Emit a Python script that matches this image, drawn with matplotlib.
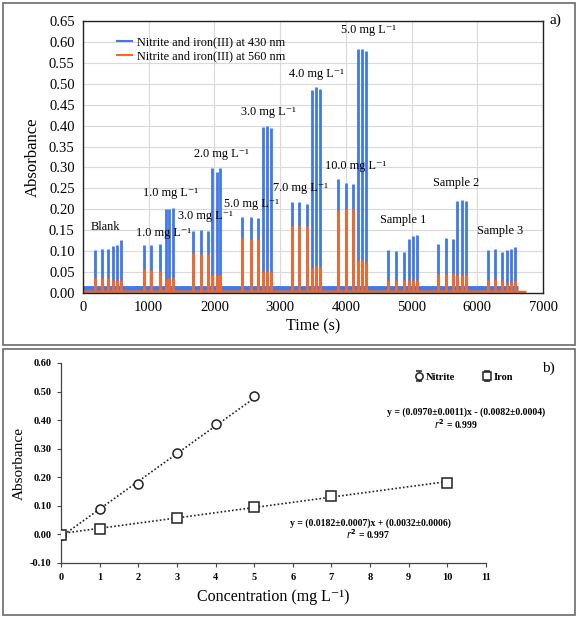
import numpy as np
import matplotlib
matplotlib.use("Agg")
import matplotlib.pyplot as plt
from matplotlib.patches import Rectangle

plt.rcParams['font.family'] = ['Liberation Serif', 'DejaVu Serif']

# ---------- panel a data: peak times (s) and heights ----------
peak_t = [183, 284, 385, 452, 513, 574,
          928, 1035, 1172, 1258, 1309, 1375,
          1679, 1791, 1907, 1970, 2035, 2092,
          2425, 2552, 2668, 2744, 2805, 2866,
          3176, 3292, 3414, 3480, 3541, 3607,
          3886, 3999, 4106, 4181, 4242, 4307,
          4637, 4764, 4886, 4962, 5027, 5088,
          5408, 5521, 5627, 5697, 5764, 5825,
          6156, 6273, 6380, 6452, 6513, 6578]
peak_430 = [0.103, 0.106, 0.106, 0.113, 0.115, 0.126,
            0.115, 0.114, 0.118, 0.200, 0.200, 0.203,
            0.149, 0.150, 0.147, 0.299, 0.289, 0.299,
            0.181, 0.181, 0.179, 0.397, 0.400, 0.394,
            0.217, 0.217, 0.213, 0.486, 0.492, 0.488,
            0.273, 0.263, 0.260, 0.584, 0.583, 0.579,
            0.103, 0.101, 0.099, 0.129, 0.137, 0.139,
            0.117, 0.131, 0.129, 0.219, 0.223, 0.219,
            0.103, 0.106, 0.098, 0.102, 0.106, 0.111]
peak_560 = [0.037, 0.037, 0.035, 0.032, 0.032, 0.032,
            0.058, 0.056, 0.052, 0.034, 0.036, 0.036,
            0.096, 0.094, 0.093, 0.044, 0.043, 0.043,
            0.131, 0.129, 0.129, 0.053, 0.052, 0.050,
            0.159, 0.161, 0.161, 0.060, 0.064, 0.062,
            0.199, 0.201, 0.201, 0.078, 0.078, 0.075,
            0.032, 0.032, 0.032, 0.030, 0.032, 0.032,
            0.045, 0.046, 0.045, 0.042, 0.043, 0.043,
            0.032, 0.033, 0.032, 0.025, 0.026, 0.028]
base_430 = 0.012
base_560 = 0.003
end_430 = 6626
end_560 = 6740

labels_a = ["Blank", "1.0 mg L\u207b\u00b9", "1.0 mg L\u207b\u00b9", "3.0 mg L\u207b\u00b9",
            "2.0 mg L\u207b\u00b9", "5.0 mg L\u207b\u00b9", "3.0 mg L\u207b\u00b9",
            "7.0 mg L\u207b\u00b9", "4.0 mg L\u207b\u00b9", "10.0 mg L\u207b\u00b9",
            "5.0 mg L\u207b\u00b9", "Sample 1", "Sample 2", "Sample 3"]
labels_a_x = [335, 1220, 1324, 1857, 2111, 2568, 2821, 3316, 3557, 4155, 4343, 4875, 5677, 6347]
labels_a_y = [0.144, 0.129, 0.225, 0.170, 0.317, 0.199, 0.418, 0.237, 0.510, 0.288, 0.615, 0.161, 0.249, 0.135]

# ---------- panel b data ----------
conc_nitrite = [0, 1, 2, 3, 4, 5]
abs_nitrite = [-0.002, 0.088, 0.178, 0.285, 0.386, 0.485]
err_nitrite = [0.003, 0.008, 0.005, 0.004, 0.004, 0.008]
conc_iron = [0, 1, 3, 5, 7, 10]
abs_iron = [-0.002, 0.019, 0.059, 0.096, 0.133, 0.180]
err_iron = [0.003, 0.004, 0.004, 0.004, 0.004, 0.004]
fit_nitrite = (0.0970, -0.0082)
fit_iron = (0.0182, 0.0032)

blue = '#4179E8'
orange = '#F4692A'

fig = plt.figure(figsize=(5.79, 6.18), dpi=100)

# panel borders (pixel boxes: top panel 3..345, bottom panel 349..615)
for top, bot in [(3, 345), (349, 615)]:
    fig.patches.append(Rectangle((3 / 579, 1 - bot / 618), 572 / 579, (bot - top) / 618,
                                 transform=fig.transFigure, fill=False,
                                 edgecolor='#6b6b6b', linewidth=1.2))

# ================= panel a =================
ax = fig.add_axes([83 / 579, 1 - 293 / 618, 460 / 579, 272 / 618])
ax.plot([0, end_430], [base_430, base_430], color=blue, lw=3.5, solid_capstyle='butt')
ax.vlines(peak_t, base_430, peak_430, color=blue, lw=2.0)
ax.plot([0, end_560], [base_560, base_560], color=orange, lw=2.5, solid_capstyle='butt')
ax.vlines(peak_t, base_560, peak_560, color=orange, lw=2.0)
ax.plot([], [], color=blue, lw=1.5, label='Nitrite and iron(III) at 430 nm')
ax.plot([], [], color=orange, lw=1.5, label='Nitrite and iron(III) at 560 nm')

ax.set_xlim(0, 7000)
ax.set_ylim(0, 0.65)
ax.set_xticks(np.arange(0, 7001, 1000))
ax.set_yticks(np.arange(0, 0.651, 0.05))
ax.yaxis.set_major_formatter(matplotlib.ticker.FormatStrFormatter('%.2f'))
ax.grid(True, color='#d9d9d9', lw=0.8)
ax.set_axisbelow(True)
ax.tick_params(length=0, labelsize=10.5, pad=6)
for s in ax.spines.values():
    s.set_color('#222222')
    s.set_linewidth(1.0)
ax.set_xlabel('Time (s)', fontsize=11.5, labelpad=3)
ax.set_ylabel('Absorbance', fontsize=12, labelpad=6)

for txt, x, y in zip(labels_a, labels_a_x, labels_a_y):
    ax.text(x, y, txt, fontsize=8.8, ha='center', va='bottom')

ax.legend(loc='upper left', bbox_to_anchor=(0.05, 0.985), frameon=False, fontsize=8.8,
          handlelength=1.2, handletextpad=0.4, labelspacing=0.15)
fig.text(555 / 579, 1 - 20 / 618, 'a)', fontsize=11, ha='center', va='center')

# ================= panel b =================
bx = fig.add_axes([61 / 579, 1 - 563 / 618, 425 / 579, 200 / 618])
xn = np.array([conc_nitrite[0], conc_nitrite[-1]])
xi = np.array([conc_iron[0], conc_iron[-1]])
bx.plot(xn, fit_nitrite[0] * xn + fit_nitrite[1], ls=(0, (1, 1.3)), color='#222222', lw=1.2)
bx.plot(xi, fit_iron[0] * xi + fit_iron[1], ls=(0, (1, 1.3)), color='#222222', lw=1.2)
bx.errorbar(conc_nitrite, abs_nitrite, yerr=err_nitrite, fmt='o', mfc='white', mec='#222222',
            ms=6.5, mew=1.1, ecolor='#222222', elinewidth=0.8, capsize=2, label='Nitrite', zorder=3)
bx.errorbar(conc_iron, abs_iron, yerr=err_iron, fmt='s', mfc='white', mec='#222222',
            ms=6.5, mew=1.1, ecolor='#222222', elinewidth=0.8, capsize=2, label='Iron', zorder=3)

bx.set_xlim(0, 11)
bx.set_ylim(-0.10, 0.60)
bx.set_xticks(range(0, 12))
bx.set_yticks(np.arange(-0.1, 0.601, 0.1))
bx.yaxis.set_major_formatter(matplotlib.ticker.FormatStrFormatter('%.2f'))
bx.spines['top'].set_visible(False)
bx.spines['right'].set_visible(False)
for s in ('left', 'bottom'):
    bx.spines[s].set_color('#444444')
    bx.spines[s].set_linewidth(0.9)
bx.tick_params(direction='out', length=3, width=0.8, color='#444444', labelsize=7.5, pad=4)
for lab in bx.get_xticklabels() + bx.get_yticklabels():
    lab.set_fontweight('bold')
bx.set_xlabel('Concentration (mg L\u207b\u00b9)', fontsize=11.5, labelpad=5)
bx.set_ylabel('Absorbance', fontsize=11, labelpad=3)

eq_kw = dict(fontsize=7, fontweight='bold', ha='center', va='center', clip_on=False)
bx.text(10.48, 0.428, 'y = (0.0970\u00b10.0011)x - (0.0082\u00b10.0004)', **eq_kw)
bx.text(10.22, 0.387, '$\\mathbf{\\mathit{r}^2}$ = 0.999', **eq_kw)
bx.text(8.0, 0.041, 'y = (0.0182\u00b10.0007)x + (0.0032\u00b10.0006)', **eq_kw)
bx.text(7.95, 0.000, '$\\mathbf{\\mathit{r}^2}$ = 0.997', **eq_kw)

h, l = bx.get_legend_handles_labels()
bx.legend(h, l, loc='center', bbox_to_anchor=(10.4 / 11, 0.93), ncol=2, frameon=False,
          prop={'weight': 'bold', 'size': 7.5}, handletextpad=0.0, columnspacing=2.5,
          handlelength=1.2, markerscale=0.8)
fig.text(548 / 579, 1 - 368 / 618, 'b)', fontsize=11, ha='center', va='center')

fig.savefig('out.png', dpi=100)
